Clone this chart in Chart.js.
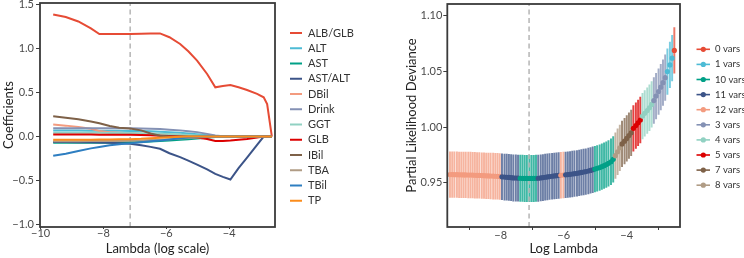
<!DOCTYPE html>
<html><head><meta charset="utf-8">
<script src="https://cdn.jsdelivr.net/npm/chart.js@4.4.1/dist/chart.umd.min.js"></script>
<style>
html,body{margin:0;padding:0;background:#fff;}
#wrap{position:relative;width:744px;height:258px;overflow:hidden;}
#c1{position:absolute;left:0;top:0;}
#c2{position:absolute;left:372px;top:0;}
</style></head><body>
<div id="wrap"><canvas id="c1" width="372" height="258"></canvas><canvas id="c2" width="372" height="258"></canvas></div>
<script>
// ---------- Left panel: coefficient paths ----------
const pathLogLambda = [-9.6,-9.2,-8.8,-8.4,-8.13,-7.8,-7.5,-7.15,-6.8,-6.5,-6.2,-5.9,-5.56,-5.3,-5.02,-4.7,-4.44,-4.2,-3.96,-3.7,-3.43,-3.11,-2.9,-2.79,-2.64];
const coefNames = ['ALB/GLB','ALT','AST','AST/ALT','DBil','Drink','GGT','GLB','IBil','TBA','TBil','TP'];
const coefColors = ['#E64B35','#4DBBD5','#00A087','#3C5488','#F39B7F','#8491B4','#91D1C2','#DC0000','#7E6148','#B09C85','#2E7EC1','#FB8C1C'];
const coefALBGLB = [1.39,1.36,1.31,1.23,1.167,1.167,1.167,1.168,1.170,1.172,1.174,1.13,1.053,0.97,0.864,0.712,0.56,0.575,0.587,0.56,0.53,0.485,0.447,0.37,0];
const coefALT    = [0.068,0.068,0.068,0.067,0.067,0.066,0.065,0.064,0.062,0.059,0.055,0.05,0.043,0.035,0.025,0.014,0.006,0.002,0,0,0,0,0,0,0];
const coefAST    = [-0.072,-0.072,-0.072,-0.071,-0.071,-0.07,-0.068,-0.066,-0.062,-0.057,-0.051,-0.045,-0.037,-0.03,-0.022,-0.013,-0.006,-0.002,0,0,0,0,0,0,0];
const coefASTALT = [-0.062,-0.063,-0.064,-0.066,-0.068,-0.072,-0.077,-0.083,-0.1,-0.118,-0.14,-0.19,-0.235,-0.275,-0.32,-0.375,-0.425,-0.46,-0.489,-0.36,-0.24,-0.095,0,0,0];
const coefDBil   = [0.136,0.124,0.108,0.088,0.062,0.048,0.042,0.037,0.032,0.026,0.02,0.014,0.009,0.005,0.002,0,0,0,0,0,0,0,0,0,0];
const coefDrink  = [0.095,0.095,0.095,0.095,0.095,0.095,0.095,0.094,0.092,0.089,0.085,0.078,0.07,0.06,0.05,0.03,0.012,0.003,0,0,0,0,0,0,0];
const coefGGT    = [0.042,0.042,0.042,0.042,0.042,0.041,0.04,0.039,0.037,0.035,0.032,0.028,0.023,0.018,0.012,0.006,0.002,0,0,0,0,0,0,0,0];
const coefGLB    = [0.023,0.023,0.022,0.022,0.021,0.02,0.02,0.019,0.017,0.014,0.01,0.005,0,-0.005,-0.012,-0.028,-0.052,-0.05,-0.045,-0.037,-0.027,-0.01,0,0,0];
const coefIBil   = [0.231,0.215,0.196,0.17,0.15,0.12,0.1,0.09,0.07,0.035,0.008,0,0,0,0,0,0,0,0,0,0,0,0,0,0];
const coefTBA    = [-0.053,-0.053,-0.053,-0.052,-0.052,-0.051,-0.05,-0.048,-0.045,-0.041,-0.036,-0.03,-0.023,-0.017,-0.011,-0.005,-0.002,0,0,0,0,0,0,0,0];
const coefTBil   = [-0.22,-0.195,-0.165,-0.135,-0.12,-0.1,-0.088,-0.078,-0.066,-0.055,-0.044,-0.033,-0.02,-0.012,-0.005,-0.001,0,0,0,0,0,0,0,0,0];
const coefTP     = [-0.037,-0.037,-0.037,-0.036,-0.035,-0.034,-0.032,-0.03,-0.026,-0.02,-0.014,-0.008,-0.003,0,0,0,0,0,0,0,0,0,0,0,0];
const coefSeries = [coefALBGLB,coefALT,coefAST,coefASTALT,coefDBil,coefDrink,coefGGT,coefGLB,coefIBil,coefTBA,coefTBil,coefTP];
const leftXTicks = [-10,-8,-6,-4];
const leftYTicks = [-1.0,-0.5,0.0,0.5,1.0,1.5];
const leftXRange = [-10.02,-2.54];
const leftYRange = [-1.03,1.52];
const leftLambdaMin = -7.15;

// ---------- Right panel: cross-validation ----------
const cvLogLambda = [-9.61,-9.54,-9.47,-9.39,-9.32,-9.25,-9.18,-9.11,-9.03,-8.96,-8.89,-8.82,-8.75,-8.68,-8.60,-8.53,-8.46,-8.39,-8.32,-8.24,-8.17,-8.10,-8.03,-7.96,-7.88,-7.81,-7.74,-7.67,-7.60,-7.52,-7.45,-7.38,-7.31,-7.24,-7.17,-7.09,-7.02,-6.95,-6.88,-6.81,-6.73,-6.66,-6.59,-6.52,-6.45,-6.37,-6.30,-6.23,-6.16,-6.09,-6.01,-5.94,-5.87,-5.80,-5.73,-5.66,-5.58,-5.51,-5.44,-5.37,-5.30,-5.22,-5.15,-5.08,-5.01,-4.94,-4.86,-4.79,-4.72,-4.65,-4.58,-4.50,-4.43,-4.36,-4.29,-4.22,-4.15,-4.07,-4.00,-3.93,-3.86,-3.79,-3.71,-3.64,-3.57,-3.50,-3.43,-3.35,-3.28,-3.21,-3.14,-3.07,-2.99,-2.92,-2.85,-2.78,-2.71,-2.63,-2.56,-2.49];
const cvMean = [0.9575,0.9575,0.9574,0.9574,0.9573,0.9573,0.9572,0.9572,0.9571,0.9571,0.9570,0.9569,0.9568,0.9567,0.9566,0.9565,0.9564,0.9563,0.9562,0.9561,0.9560,0.9559,0.9557,0.9555,0.9553,0.9551,0.9549,0.9547,0.9545,0.9544,0.9543,0.9542,0.9541,0.9540,0.9540,0.9540,0.9540,0.9540,0.9541,0.9542,0.9545,0.9548,0.9551,0.9554,0.9557,0.9560,0.9563,0.9565,0.9567,0.9569,0.9571,0.9573,0.9575,0.9577,0.9580,0.9583,0.9586,0.9590,0.9594,0.9598,0.9602,0.9607,0.9612,0.9618,0.9624,0.9631,0.9638,0.9646,0.9655,0.9665,0.9676,0.9690,0.9712,0.9745,0.9780,0.9815,0.9850,0.9875,0.9900,0.9925,0.9950,0.9990,1.0015,1.0040,1.0065,1.0100,1.0125,1.0150,1.0175,1.0205,1.0240,1.0280,1.0320,1.0360,1.0400,1.0445,1.0500,1.0560,1.0620,1.0690];
const cvSD = [0.0205,0.0205,0.0205,0.0205,0.0205,0.0205,0.0205,0.0205,0.0205,0.0205,0.0205,0.0205,0.0205,0.0205,0.0205,0.0205,0.0205,0.0205,0.0205,0.0206,0.0206,0.0206,0.0206,0.0206,0.0207,0.0207,0.0207,0.0207,0.0208,0.0208,0.0208,0.0208,0.0208,0.0208,0.0208,0.0208,0.0208,0.0208,0.0208,0.0208,0.0207,0.0207,0.0207,0.0207,0.0206,0.0206,0.0206,0.0206,0.0206,0.0205,0.0205,0.0205,0.0205,0.0205,0.0205,0.0205,0.0205,0.0205,0.0205,0.0205,0.0205,0.0205,0.0205,0.0205,0.0205,0.0205,0.0205,0.0205,0.0205,0.0205,0.0205,0.0205,0.0205,0.0205,0.0205,0.0205,0.0205,0.0205,0.0205,0.0205,0.0205,0.0205,0.0205,0.0205,0.0205,0.0205,0.0205,0.0205,0.0205,0.0205,0.0205,0.0205,0.0205,0.0205,0.0205,0.0205,0.0205,0.0205,0.0205,0.0205];
const cvNVars = [12,12,12,12,12,12,12,12,12,12,12,12,12,12,12,12,12,12,12,12,12,12,12,11,11,11,11,11,11,11,11,10,10,10,10,10,10,10,10,11,11,11,11,11,11,11,11,11,11,12,12,11,11,11,11,11,11,11,11,11,11,11,11,11,10,10,10,10,10,10,10,10,10,8,8,8,7,7,7,7,7,5,5,5,5,4,4,4,4,4,3,3,3,3,3,3,1,1,1,0];
const cvGroupLabels = ['0 vars','1 vars','10 vars','11 vars','12 vars','3 vars','4 vars','5 vars','7 vars','8 vars'];
const cvGroupVars = [0,1,10,11,12,3,4,5,7,8];
const cvGroupColors = ['#E64B35','#4DBBD5','#00A087','#3C5488','#F39B7F','#8491B4','#91D1C2','#DC0000','#7E6148','#B09C85'];
const rightXTicks = [-8,-6,-4];
const rightYTicks = [0.95,1.00,1.05,1.10];
const rightXRange = [-9.695,-2.31];
const rightYRange = [0.9104,1.1107];
const rightLambdaMin = -7.1;

// ---------- helpers ----------
Chart.defaults.font.family = 'Lato, "Noto Sans", sans-serif';
const fmt = d => v => (v < 0 ? '\u2212' : '') + Math.abs(v).toFixed(d);
function hexA(hex, a){const n=parseInt(hex.slice(1),16);return `rgba(${n>>16&255},${n>>8&255},${n&255},${a})`;}
function fixTicks(arr){return s=>{s.ticks = arr.map(v=>({value:v}));};}
function fitW(w){return s=>{s.width=w;s.paddingTop=0;s.paddingBottom=0;s.paddingLeft=0;s.paddingRight=0;};}
function fitH(h){return s=>{s.height=h;s.paddingTop=0;s.paddingBottom=0;s.paddingLeft=0;s.paddingRight=0;};}
const framePlugin = {id:'frame', afterDatasetsDraw(c){const a=c.chartArea,x=c.ctx;x.save();x.strokeStyle='#3a3a3a';x.lineWidth=1.8;x.strokeRect(a.left,a.top,a.right-a.left,a.bottom-a.top);x.restore();}};
function axisCommon(tl){return {
  grid:{display:true,drawOnChartArea:false,drawTicks:true,color:'#3d3d3d',tickLength:tl,tickWidth:1},
  border:{display:false}};}

// ---------- left chart ----------
const leftDatasets = coefSeries.map((vals,i)=>({
  label: coefNames[i], data: pathLogLambda.map((x,j)=>({x:x,y:vals[j]})),
  borderColor: coefColors[i], borderWidth: 2, showLine: true, pointRadius: 0, fill:false,
  order: coefSeries.length - i
}));
leftDatasets.push({label:'min', data:[{x:leftLambdaMin,y:leftYRange[0]},{x:leftLambdaMin,y:leftYRange[1]}],
  borderColor:'#b5b5b5', borderWidth:1.5, borderDash:[5,3.5], showLine:true, pointRadius:0, order:100});

const leftLegend = {id:'leftLegend', afterDraw(c){const x=c.ctx;x.save();
  x.font='11px Lato, "Noto Sans", sans-serif';x.textBaseline='middle';
  coefNames.forEach((n,i)=>{const y=33+i*15.25;x.strokeStyle=coefColors[i];x.lineWidth=2;
    x.beginPath();x.moveTo(290,y);x.lineTo(302,y);x.stroke();x.fillStyle='#333';x.fillText(n,308,y);});
  x.restore();}};

new Chart(document.getElementById('c1'), {
  type:'scatter',
  data:{datasets:leftDatasets},
  options:{responsive:false, animation:false, events:[],
    layout:{padding:{left:0,right:97,top:3,bottom:0}},
    plugins:{legend:{display:false},tooltip:{enabled:false}},
    scales:{
      x:Object.assign(axisCommon(2),{type:'linear',min:leftXRange[0],max:leftXRange[1],
        afterBuildTicks:fixTicks(leftXTicks), afterFit:fitH(31),
        ticks:{callback:fmt(0),color:'#4a4a4a',font:{size:11},padding:-2,maxRotation:0,autoSkip:false},
        title:{display:true,text:'Lambda (log scale)',color:'#222',font:{size:13},padding:{top:0,bottom:1.5}}}),
      y:Object.assign(axisCommon(4),{type:'linear',min:leftYRange[0],max:leftYRange[1],
        afterBuildTicks:fixTicks(leftYTicks), afterFit:fitW(40),
        ticks:{callback:fmt(1),color:'#4a4a4a',font:{size:11},padding:2,autoSkip:false},
        title:{display:true,text:'Coefficients',color:'#222',font:{size:13},padding:{top:1.2,bottom:0}}})
    }},
  plugins:[framePlugin,leftLegend]
});

// ---------- right chart ----------
const colorOf = n => cvGroupColors[cvGroupVars.indexOf(n)];
const rightLegend = {id:'rightLegend', afterDraw(c){const x=c.ctx;x.save();
  x.font='9.5px Lato, "Noto Sans", sans-serif';x.textBaseline='middle';
  cvGroupLabels.forEach((n,i)=>{const y=49.3+i*15.1;const col=cvGroupColors[i];
    x.strokeStyle=col;x.lineWidth=1.6;x.beginPath();x.moveTo(324.5,y);x.lineTo(338,y);x.stroke();
    x.fillStyle=col;x.beginPath();x.arc(331.3,y,2.6,0,Math.PI*2);x.fill();
    x.fillStyle='#333';x.fillText(n,343,y);});
  x.restore();}};

new Chart(document.getElementById('c2'), {
  type:'bar',
  data:{datasets:[
    {type:'line', label:'mean', data:cvLogLambda.map((x,i)=>({x:x,y:cvMean[i]})), showLine:false,
      pointRadius:2.6, pointBorderWidth:0, pointBackgroundColor:cvNVars.map(colorOf), pointBorderColor:cvNVars.map(colorOf), order:0},
    {type:'line', label:'min', data:[{x:rightLambdaMin,y:rightYRange[0]},{x:rightLambdaMin,y:rightYRange[1]}],
      borderColor:'#b5b5b5', borderWidth:1.5, borderDash:[5,3.5], pointRadius:0, showLine:true, order:1},
    {type:'bar', label:'sd', data:cvLogLambda.map((x,i)=>({x:x,y:[cvMean[i]-cvSD[i],cvMean[i]+cvSD[i]]})),
      backgroundColor:cvNVars.map(n=>hexA(colorOf(n),0.75)), borderWidth:0, barThickness:1.3, grouped:false, order:2}
  ]},
  options:{responsive:false, animation:false, events:[],
    layout:{padding:{left:30,right:64,top:3,bottom:0}},
    plugins:{legend:{display:false},tooltip:{enabled:false}},
    scales:{
      x:Object.assign(axisCommon(3),{type:'linear',offset:false,min:rightXRange[0],max:rightXRange[1],
        afterBuildTicks:fixTicks(rightXTicks), afterFit:fitH(31),
        ticks:{callback:fmt(0),color:'#4a4a4a',font:{size:11},padding:-1,maxRotation:0,autoSkip:false},
        title:{display:true,text:'Log Lambda',color:'#222',font:{size:13},padding:{top:0,bottom:1.5}}}),
      y:Object.assign(axisCommon(4),{type:'linear',min:rightYRange[0],max:rightYRange[1],
        afterBuildTicks:fixTicks(rightYTicks), afterFit:fitW(45.3),
        ticks:{callback:fmt(2),color:'#4a4a4a',font:{size:11},padding:1,autoSkip:false},
        title:{display:true,text:'Partial Likelihood Deviance',color:'#222',font:{size:13},padding:{top:1.9,bottom:0}}})
    }},
  plugins:[framePlugin,rightLegend]
});
</script></body></html>
